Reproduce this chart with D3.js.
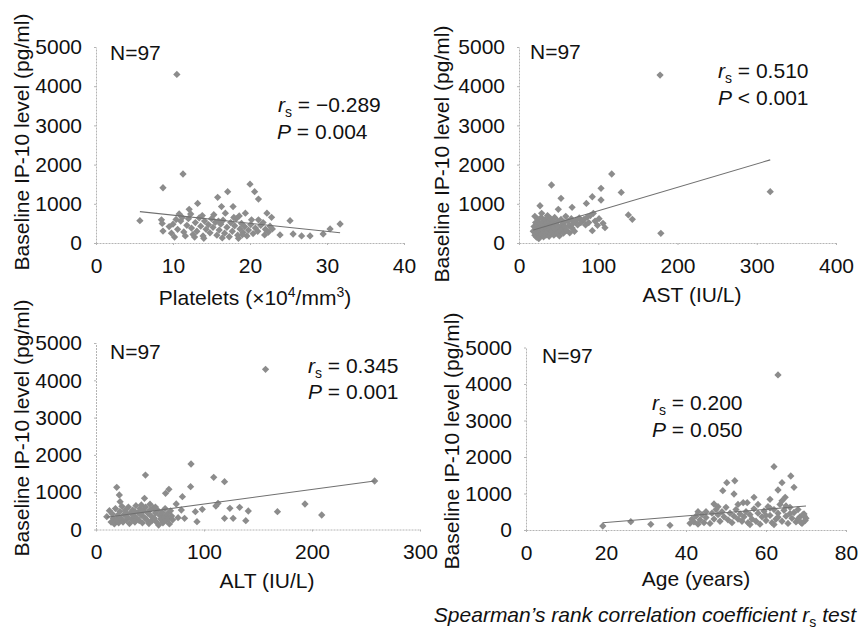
<!DOCTYPE html>
<html>
<head>
<meta charset="utf-8">
<script src="https://cdn.jsdelivr.net/npm/d3@7"></script>
<style>
  body { margin: 0; background: #fff; }
  svg { font-family: "Liberation Sans", Arial, sans-serif; }
</style>
</head>
<body>
<div id="chart"></div>
<script>
// IP-10 vs platelets (x10^4/mm3)
var plateletPts = [
  [10.5,4300],[11.3,1760],[8.7,1410],[5.7,570],[15.8,1165],[17.1,1310],[20.0,1500],[20.6,1310],[21.1,1120],
  [13.2,1010],[12.1,860],[16.3,930],[17.8,930],[12.3,740],[10.8,740],[16.8,760],[19.4,760],[18.6,690],
  [22.2,760],[22.8,655],[25.2,570],[8.5,590],[8.6,500],[8.7,305],[10.2,150],[31.7,485],[30.4,360],
  [29.5,230],[27.8,180],[26.7,180],[25.6,230],[23.9,205],[22.9,360],[21.9,205],[20.2,590],[21.1,590],
  [9.5,420],[10.0,480],[10.6,350],[11.0,560],[11.4,280],[11.8,450],[12.0,620],[12.4,380],[12.6,220],
  [12.9,520],[13.1,300],[13.4,640],[13.6,430],[13.9,180],[14.1,560],[14.3,350],[14.6,470],[14.8,260],
  [15.0,620],[15.2,400],[15.5,530],[15.7,200],[16.0,330],[16.2,480],[16.5,580],[16.7,250],[17.0,400],
  [17.3,160],[17.5,520],[17.7,300],[18.0,440],[18.2,620],[18.4,200],[18.7,360],[18.9,500],[19.1,270],
  [19.3,420],[19.6,180],[19.8,330],[20.1,470],[20.4,240],[20.7,380],[21.0,300],[21.4,450],[21.7,520],
  [22.0,350],[22.4,280],[22.6,430],[11.2,650],[13.8,700],[15.3,720],[9.8,250],[11.6,180],[14.0,120],
  [16.4,130],[18.5,120],[12.8,150],[15.9,560],[17.9,650],[19.0,210],[10.4,600]
];
// IP-10 vs AST (IU/L)
var astPts = [
  [178,4285],[317,1310],[117,1760],[41,1480],[129,1290],[103.5,1395],[53,1140],[92.5,1180],[103.5,1097],
  [85,1010],[67,910],[26.5,950],[49.6,860],[28.6,757],[93.8,757],[138,715],[143,605],[179,247],
  [106,502],[92.5,315],[108.5,390],
  [18,300],[19,420],[20,200],[21,520],[22,350],[22,150],[23,460],[24,260],[24,600],[25,380],
  [26,180],[26,500],[27,300],[28,420],[28,650],[29,220],[30,540],[30,350],[31,160],[32,460],
  [32,280],[33,600],[34,380],[34,200],[35,520],[36,300],[36,700],[37,440],[38,170],[38,560],
  [39,340],[40,250],[40,620],[41,460],[42,300],[43,520],[44,200],[44,400],[45,650],[46,340],
  [47,480],[48,260],[49,560],[50,400],[51,180],[52,300],[53,600],[54,460],[55,360],[56,250],
  [57,520],[58,420],[59,680],[60,320],[62,560],[63,440],[64,260],[66,620],[67,380],[68,500],
  [70,300],[72,580],[74,460],[76,640],[78,520],[80,560],[82,600],[84,460],[86,660],[88,520],
  [90,700],[96,560],[99,450],[101,620],[20,680],[25,110]
];
// IP-10 vs ALT (IU/L)
var altPts = [
  [157,4295],[258,1300],[88,1756],[45.8,1460],[109,1400],[119,1282],[19.2,1130],[87.6,1148],[67.5,1078],
  [64.4,970],[21.6,925],[44.9,836],[80,880],[22.3,745],[74.3,684],[113,702],[111,630],[193.5,684],
  [124,568],[133,595],[141,496],[168,477],[209,389],[92,477],[98.4,541],[79,523],[76,316],[82,300],
  [93.5,209],[119,300],[127,300],[138.7,236],[12.4,504],[10,343],
  [14,200],[15,420],[16,300],[17,150],[18,560],[19,250],[20,380],[21,180],[22,480],[23,300],
  [24,620],[25,200],[26,400],[27,520],[28,260],[29,340],[30,600],[31,160],[32,450],[33,280],
  [34,520],[35,380],[36,200],[37,640],[38,300],[39,460],[40,240],[41,560],[42,380],[43,180],
  [44,500],[45,320],[46,600],[47,260],[48,440],[49,160],[50,520],[51,360],[52,240],[53,580],
  [54,300],[55,440],[56,200],[57,520],[58,120],[59,380],[60,280],[61,460],[62,180],[63,340],
  [64,560],[65,240],[66,420],[67,300],[68,150],[69,500],[70,360],[71,260],[36,480],[42,660],
  [28,440],[50,680],[55,600]
];
// IP-10 vs age (years)
var agePts = [
  [63,4250],[19.2,110],[26.2,228],[31.2,155],[36,128],[62,1735],[66.2,1480],[64,1297],[63,1096],
  [67,1170],[64.8,896],[61,840],[50.2,1297],[52.2,1350],[49.2,1077],[52,986],[57,896],[54.3,748],
  [55.3,748],[47,712],[43,502],[41,183],[70,320],
  [41.5,300],[42,220],[42.5,380],[43,160],[43.5,280],[44,420],[44.5,200],[45,340],[46,180],[46.5,460],
  [47,300],[47.5,560],[48,420],[48.5,240],[49,500],[49.5,360],[50,620],[50.5,280],[51,460],[51.5,200],
  [52,380],[52.5,560],[53,300],[53.5,440],[54,240],[54.5,360],[55,500],[55.5,200],[56,420],[56.5,300],
  [57,580],[57.5,240],[58,460],[58.5,160],[59,360],[59.5,520],[60,260],[60.5,640],[61,400],[61.5,200],
  [62,560],[62.5,300],[63,460],[63.5,700],[64,240],[64.5,540],[65,380],[65.5,180],[66,620],[66.5,320],
  [67,480],[67.5,220],[68,560],[68.5,360],[69,180],[69.5,440],[69.8,260],[69.6,380],[68.8,200],
  [60,400],[62,150],[65,660],[64,800],[48,640],[53,700],[56,150],[45,500],[58,700],[63,350],
  [66,450],[61,600],[68,300],[69.2,420]
];

// fitted line: [intercept, slope]
var plateletFit = [918, -20.77];
var astFit = [222, 5.99];
var altFit = [291, 3.91];
var ageFit = [27, 9.0];

var ip10Ticks = [0, 1000, 2000, 3000, 4000, 5000];
var plateletTicks = [0, 10, 20, 30, 40];
var astTicks = [0, 100, 200, 300, 400];
var altTicks = [0, 100, 200, 300];
var ageTicks = [0, 20, 40, 60, 80];

var rsValues = ["\u22120.289", "0.510", "0.345", "0.200"];
var pValues = [["=", "0.004"], ["<", "0.001"], ["=", "0.001"], ["=", "0.050"]];
var xTitles = ["Platelets", "AST (IU/L)", "ALT (IU/L)", "Age (years)"];

var W = 861, H = 630, FS = 21;
var svg = d3.select("#chart").append("svg")
    .attr("width", W).attr("height", H);

var panels = [
  { pts: plateletPts, fit: plateletFit, ticks: plateletTicks, xr: [96, 404], yr: [243, 47],
    n: [110, 60], rs: [278, 112], p: [277, 139], xt: [255, 305], yt: [22, 142] },
  { pts: astPts, fit: astFit, ticks: astTicks, xr: [519, 836], yr: [243, 47],
    n: [530, 59], rs: [718, 78], p: [718, 105], xt: [692, 302], yt: [442, 154] },
  { pts: altPts, fit: altFit, ticks: altTicks, xr: [96, 420], yr: [529.5, 343],
    n: [110, 359], rs: [308, 373], p: [308, 399], xt: [267, 588], yt: [22, 428] },
  { pts: agePts, fit: ageFit, ticks: ageTicks, xr: [526, 846], yr: [530, 347.5],
    n: [542, 363], rs: [652, 410], p: [652, 437], xt: [696, 586], yt: [452, 441] }
];

var diamond = d3.symbol().type(d3.symbolDiamond2).size(34);

panels.forEach(function(pn, i) {
  var ticks = pn.ticks;
  var x = d3.scaleLinear().domain([ticks[0], ticks[ticks.length - 1]]).range(pn.xr);
  var y = d3.scaleLinear().domain([0, 5000]).range(pn.yr);
  var g = svg.append("g");

  // axes
  var ax = g.append("g")
      .attr("transform", "translate(0," + pn.yr[0] + ")")
      .call(d3.axisBottom(x).tickValues(ticks).tickFormat(d3.format("d"))
        .tickSize(3).tickPadding(12).tickSizeOuter(0));
  var ay = g.append("g")
      .attr("transform", "translate(" + pn.xr[0] + ",0)")
      .call(d3.axisLeft(y).tickValues(ip10Ticks).tickFormat(d3.format("d"))
        .tickSize(3).tickPadding(11).tickSizeOuter(0));
  [ax, ay].forEach(function(a) {
    a.selectAll("path, line").attr("stroke", "#b4b4b4").attr("stroke-width", 1)
      .attr("stroke-dasharray", "2,1");
    a.selectAll("text").attr("font-size", FS).attr("fill", "#111")
      .attr("font-family", "Liberation Sans, Arial, sans-serif");
  });

  // points
  g.selectAll("path.pt").data(pn.pts).enter().append("path")
      .attr("class", "pt")
      .attr("d", diamond)
      .attr("transform", function(d) { return "translate(" + x(d[0]) + "," + y(d[1]) + ")"; })
      .attr("fill", "#8c8c8c");

  // trend line
  var ext = d3.extent(pn.pts, function(d) { return d[0]; });
  var line = d3.line()
      .x(function(d) { return x(d); })
      .y(function(d) { return y(pn.fit[0] + pn.fit[1] * d); });
  g.append("path").datum(ext)
      .attr("d", line)
      .attr("fill", "none").attr("stroke", "#707070").attr("stroke-width", 1.1);

  // labels
  g.append("text").attr("x", pn.n[0]).attr("y", pn.n[1])
      .attr("font-size", FS).attr("fill", "#111").text("N=97");

  var rt = g.append("text").attr("x", pn.rs[0]).attr("y", pn.rs[1])
      .attr("font-size", FS).attr("fill", "#111");
  rt.append("tspan").attr("font-style", "italic").text("r");
  rt.append("tspan").attr("font-size", 14).attr("dy", 5).text("s");
  rt.append("tspan").attr("dy", -5).text(" = " + rsValues[i]);

  var pt = g.append("text").attr("x", pn.p[0]).attr("y", pn.p[1])
      .attr("font-size", FS).attr("fill", "#111");
  pt.append("tspan").attr("font-style", "italic").text("P");
  pt.append("tspan").text(" " + pValues[i][0] + " " + pValues[i][1]);

  var xt = g.append("text").attr("x", pn.xt[0]).attr("y", pn.xt[1])
      .attr("text-anchor", "middle").attr("font-size", FS).attr("fill", "#111");
  if (i === 0) {
    xt.append("tspan").text("Platelets (\u00d710");
    xt.append("tspan").attr("font-size", 14).attr("dy", -8).text("4");
    xt.append("tspan").attr("dy", 8).text("/mm");
    xt.append("tspan").attr("font-size", 14).attr("dy", -8).text("3");
    xt.append("tspan").attr("dy", 8).text(")");
  } else {
    xt.text(xTitles[i]);
  }

  g.append("text")
      .attr("transform", "translate(" + pn.yt[0] + "," + pn.yt[1] + ") rotate(-90)")
      .attr("text-anchor", "middle").attr("dy", "0.35em")
      .attr("font-size", FS).attr("fill", "#111")
      .text("Baseline IP-10 level (pg/ml)");
});

// footnote
var foot = svg.append("text").attr("x", 856).attr("y", 622)
    .attr("text-anchor", "end").attr("font-size", FS).attr("font-style", "italic").attr("fill", "#111");
foot.append("tspan").text("Spearman\u2019s rank correlation coefficient r");
foot.append("tspan").attr("font-size", 14).attr("dy", 5).attr("font-style", "normal").text("s");
foot.append("tspan").attr("dy", -5).text(" test");
</script>
</body>
</html>
